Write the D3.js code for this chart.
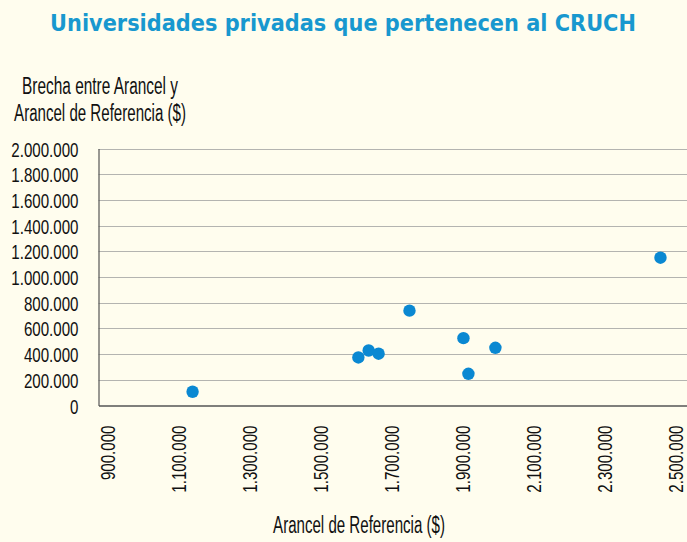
<!DOCTYPE html>
<html><head><meta charset="utf-8">
<script src="https://cdn.jsdelivr.net/npm/d3@7"></script>
<style>
html,body{margin:0;padding:0;background:#FFFDEE;}
svg{display:block;}
</style></head>
<body>
<svg id="c" width="687" height="542"></svg>
<script>
// Data: Arancel de Referencia ($) vs Brecha entre Arancel y Arancel de Referencia ($)
const arancelReferencia = [1165000, 1632000, 1661000, 1689000, 1776000, 1928000, 1942000, 2018000, 2483000];
const brecha            = [107000,  374000,  428000,  403000,  738000,  524000,  247000,  449000,  1150000];
const xTicks = [900000, 1100000, 1300000, 1500000, 1700000, 1900000, 2100000, 2300000, 2500000];
const yTicks = [0, 200000, 400000, 600000, 800000, 1000000, 1200000, 1400000, 1600000, 1800000, 2000000];
const title = "Universidades privadas que pertenecen al CRUCH";
const xTitle = "Arancel de Referencia ($)";
const yTitleLines = ["Brecha entre Arancel y", "Arancel de Referencia ($)"];

const svg = d3.select("#c");
const W = 687, H = 542;
const pL = 98.5, pR = 687, pT = 148.5, pB = 405.5;
const fontN = "'Liberation Sans',Arial,sans-serif";
const SX = 0.72; // horizontal condensing of the narrow label font

const x = d3.scaleLinear().domain([900000, 900000 + (pR - pL) / 71 * 200000]).range([pL, pR]);
const y = d3.scaleLinear().domain([0, 2000000]).range([pB, pT]);

const fmt = v => d3.format(",")(v).replace(/,/g, ".");

// place text centred at (cx, by) and squeeze horizontally to a target width
function fitText(sel, cx, by, targetW) {
  const w = sel.node().getComputedTextLength();
  const s = targetW / w;
  sel.attr("text-anchor", "middle").attr("x", 0).attr("y", 0)
     .attr("transform", `translate(${cx},${by}) scale(${s},1)`);
}

svg.append("rect").attr("width", W).attr("height", H).attr("fill", "#FFFDEE");

// title
const t = svg.append("text")
  .attr("font-family", "'DejaVu Sans',Verdana,sans-serif").attr("font-weight", "bold")
  .attr("font-size", 23).attr("fill", "#1898CF").text(title);
fitText(t, 343, 31, 586);

// gridlines
svg.append("g").selectAll("line").data(yTicks.filter(d => d > 0)).join("line")
  .attr("x1", pL).attr("x2", pR)
  .attr("y1", d => Math.round(y(d)) + 0.5).attr("y2", d => Math.round(y(d)) + 0.5)
  .attr("stroke", "#B4B4B0").attr("stroke-width", 1);

// y axis
const yAxis = d3.axisLeft(y).tickValues(yTicks).tickFormat(fmt).tickSize(0).tickPadding(0);
const gy = svg.append("g").attr("transform", `translate(${pL},0)`).call(yAxis);
gy.select(".domain").attr("stroke", "#555").attr("stroke-width", 1.2);
gy.selectAll("text").attr("font-family", fontN).attr("font-size", 21).attr("fill", "#111")
  .attr("x", 0).attr("dy", "0.36em")
  .attr("transform", `translate(-20,0) scale(${SX},1)`);

// x axis
const xAxis = d3.axisBottom(x).tickValues(xTicks).tickFormat(fmt).tickSize(0);
const gx = svg.append("g").attr("transform", `translate(0,${pB})`).call(xAxis);
gx.select(".domain").attr("stroke", "#555").attr("stroke-width", 1.5);
gx.selectAll("text").attr("font-family", fontN).attr("font-size", 21).attr("fill", "#111")
  .attr("text-anchor", "end").attr("dy", "0.36em").attr("y", 0)
  .attr("transform", `translate(8,20) rotate(-90) scale(${SX},1)`);

// axis titles
const xt = svg.append("text").attr("font-family", fontN).attr("font-size", 23).attr("fill", "#111").text(xTitle);
fitText(xt, 359, 533, 172);
const yt1 = svg.append("text").attr("font-family", fontN).attr("font-size", 23).attr("fill", "#111").text(yTitleLines[0]);
fitText(yt1, 100, 94, 156);
const yt2 = svg.append("text").attr("font-family", fontN).attr("font-size", 23).attr("fill", "#111").text(yTitleLines[1]);
fitText(yt2, 100, 121, 172);

// points
svg.append("g").selectAll("circle").data(arancelReferencia.map((v, i) => [v, brecha[i]])).join("circle")
  .attr("cx", d => x(d[0])).attr("cy", d => y(d[1])).attr("r", 6.2)
  .attr("fill", "#0A88D2");
</script>
</body></html>
